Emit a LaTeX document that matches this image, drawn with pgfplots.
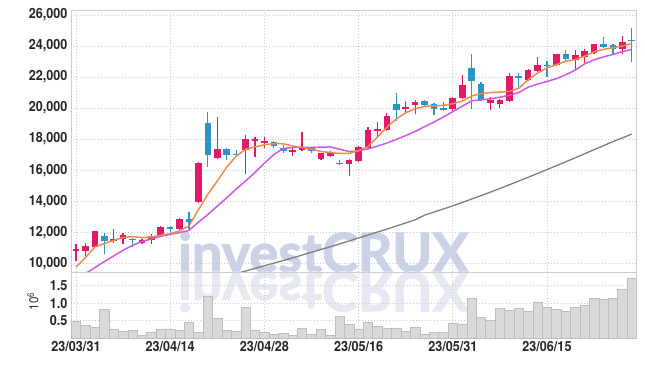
\documentclass[border=0pt]{standalone}
\usepackage{pgfplots}
\pgfplotsset{compat=1.18}
\usepackage{pgfplotstable}
\usepackage{fontspec}
\setmainfont{TeX Gyre Heros}[FakeStretch=0.9]
\newfontfamily\wmfont{Lato}[FakeBold=2]
\definecolor{upc}{HTML}{E2186A}
\definecolor{dnc}{HTML}{2E93C6}
\definecolor{maA}{HTML}{F08A4B}
\definecolor{maB}{HTML}{C95BE8}
\definecolor{maC}{HTML}{7F7F7F}
\definecolor{gridc}{HTML}{C5C9DA}
\definecolor{framec}{HTML}{CCCCD4}
\definecolor{volf}{HTML}{D9D9D9}
\definecolor{vold}{HTML}{BDBDBD}
\definecolor{wm}{HTML}{CBD2E5}
\definecolor{wmr}{HTML}{E6E9F2}

\pgfplotstableread{
i o h l c
0 10800 11226 10150 10900
1 10820 11330 10470 11120
2 11075 12100 11070 12085
4 11420 12190 11330 11590
5 11550 11935 11225 11830
7 11310 11570 11270 11485
8 11525 11870 11225 11785
9 11763 12390 11720 12343
11 12215 12900 12190 12880
13 13980 16500 13950 16470
15 16815 19400 16710 17355
18 17290 18260 15740 18000
19 17850 18110 16820 18000
20 17765 18110 17460 17890
23 17140 17460 16925 17310
24 17290 18430 17245 17420
26 16710 17110 16700 17097
27 16946 17250 16940 17140
29 16430 16700 15635 16645
30 16590 17550 16560 17500
31 17460 18760 17410 18610
32 18545 19087 18065 18675
33 18610 19675 18545 19500
35 19935 20460 19630 20065
36 20196 20500 19630 20370
40 19935 20720 19740 20675
41 20675 22130 20610 21500
44 20350 20740 19880 20520
45 20240 20600 19980 20520
46 20457 22260 20410 22087
48 21783 22520 21780 22478
49 22413 23280 22326 22804
51 22804 23500 22760 23457
53 23130 23717 22480 23390
54 23304 23780 22913 23674
55 23522 24150 23460 24109
58 23783 24650 23500 24283
}\upcandles

\pgfplotstableread{
i o h l c
3 11760 11980 10580 11440
6 11590 11655 11050 11485
10 12340 12390 11980 12240
12 12860 13310 12190 12690
14 19050 19780 16235 17010
16 17355 17420 16645 16970
17 17050 17310 16880 16950
21 17785 17850 17460 17570
22 17460 17635 17100 17205
25 17400 17460 17100 17205
28 16470 16645 16340 16380
34 20240 20980 19150 19850
37 20435 20500 20175 20196
38 20240 20350 19587 19957
39 19990 20390 19890 19900
42 22590 23500 19957 21740
43 21545 21700 20457 20500
47 22060 22260 21390 21960
50 22800 23065 21980 22700
52 23457 23717 23022 23196
56 24150 24587 23940 23956
57 24043 24110 23457 23805
59 24410 25150 22980 24310
}\dncandles

\pgfplotstableread{
i v
0 9750
1 10365
2 11050
3 11270
4 11480
5 11655
6 11720
7 11655
8 11700
9 11806
10 11913
11 12085
12 12408
13 13450
14 14450
15 15300
16 16200
17 16900
18 17350
19 17505
20 17634
21 17720
22 17700
23 17560
24 17462
25 17355
26 17204
27 17140
28 17075
29 17080
30 17250
31 17520
32 18150
33 18760
34 19300
35 19700
36 19957
37 20110
38 20150
39 20175
40 20280
41 20457
42 20780
43 20935
44 21000
45 21030
46 21080
47 21280
48 21826
49 22260
50 22587
51 22804
52 23022
53 23130
54 23348
55 23630
56 23783
57 23890
58 24000
59 24152
}\maFive

\pgfplotstableread{
i v
1 9330
2 9720
3 10107
4 10473
5 10838
6 11161
7 11397
8 11570
9 11741
10 11870
11 11978
12 12120
13 12650
14 13150
15 13680
16 14220
17 14780
18 15300
19 15850
20 16450
21 17000
22 17400
23 17460
24 17470
25 17470
26 17480
27 17500
28 17350
29 17200
30 17250
31 17370
32 17550
33 17750
34 17980
35 18230
36 18490
37 18800
38 19100
39 19430
40 19770
41 20120
42 20470
43 20530
44 20600
45 20700
46 20830
47 21000
48 21350
49 21550
50 21717
51 21900
52 22150
53 22450
54 22850
55 23110
56 23300
57 23457
58 23640
59 23780
}\maTwenty

\pgfplotstableread{
i v
16 9170
17 9330
18 9500
19 9670
20 9840
21 10010
22 10180
23 10350
24 10530
25 10710
26 10890
27 11070
28 11250
29 11440
30 11630
31 11820
32 12010
33 12200
34 12400
35 12600
36 12800
37 13100
38 13300
39 13500
40 13700
41 13920
42 14140
43 14360
44 14590
45 14820
46 15060
47 15300
48 15540
49 15790
50 16040
51 16290
52 16540
53 16800
54 17060
55 17320
56 17580
57 17840
58 18080
59 18330
}\maLong

\pgfplotstableread{
i v
0 0.48
1 0.36
2 0.30
3 0.82
4 0.25
5 0.19
6 0.22
7 0.08
8 0.16
9 0.25
10 0.25
11 0.22
12 0.46
13 0.16
14 1.19
15 0.56
16 0.22
17 0.19
18 0.88
19 0.22
20 0.16
21 0.10
22 0.13
23 0.08
24 0.28
25 0.10
26 0.25
27 0.08
28 0.62
29 0.40
30 0.25
31 0.46
32 0.33
33 0.29
34 0.29
35 0.19
36 0.30
37 0.10
38 0.16
39 0.16
40 0.42
41 0.40
42 1.13
43 0.59
44 0.51
45 0.85
46 0.79
47 0.85
48 0.76
49 1.02
50 0.88
51 0.82
52 0.76
53 0.88
54 0.93
55 1.13
56 1.10
57 1.13
58 1.40
59 1.70
}\vol

\pgfplotsset{
  commonax/.style={
    scale only axis, width=565pt, anchor=south west,
    xmin=-0.53, xmax=59.45,
    xtick={0,10,20,30,40,50},
    grid=major,
    major grid style={gridc, line width=0.8pt, dash pattern=on 1pt off 2pt},
    axis line style={framec, line width=0.8pt},
    major tick length=0pt,
    scaled y ticks=false,
    tick label style={font=\fontsize{14}{16}\selectfont\bfseries, text=black!85},
    /pgf/number format/assume math mode=true,
  },
  candle/.style={draw=none, mark=none, forget plot,
    error bars/y dir=#1, error bars/y explicit, error bars/error mark=none},
}

\begin{document}
\begin{tikzpicture}
\path[use as bounding box] (0,0) rectangle (645pt,367pt);
\node[anchor=base west, inner sep=0pt, font=\wmfont\bfseries\fontsize{54}{54}\selectfont, text=wm] at (178pt,95pt) {investCRUX};
\node[anchor=base west, inner sep=0pt, yscale=-1, font=\wmfont\bfseries\fontsize{54}{54}\selectfont, text=wmr] at (178pt,95pt) {investCRUX};

\begin{axis}[commonax, at={(71pt,95pt)}, height=262pt,
  ymin=9439, ymax=26322,
  ytick={10000,12000,...,26000},
  xticklabels={},
  /pgf/number format/1000 sep={,},
]
\addplot[candle=both, error bars/error bar style={draw=upc, line width=1.2pt}]
  table[x=i, y=o, y error plus expr=\thisrow{h}-\thisrow{o}, y error minus expr=\thisrow{o}-\thisrow{l}] {\upcandles};
\addplot[candle=plus, error bars/error bar style={draw=upc, line width=6.6pt, line cap=butt}]
  table[x=i, y=o, y error plus expr=\thisrow{c}-\thisrow{o}] {\upcandles};
\addplot[candle=both, error bars/error bar style={draw=dnc, line width=1.2pt}]
  table[x=i, y=c, y error plus expr=\thisrow{h}-\thisrow{c}, y error minus expr=\thisrow{c}-\thisrow{l}] {\dncandles};
\addplot[candle=plus, error bars/error bar style={draw=dnc, line width=6.6pt, line cap=butt}]
  table[x=i, y=c, y error plus expr=\thisrow{o}-\thisrow{c}] {\dncandles};
\addplot[maC, line width=1.3pt, no marks] table[x=i, y=v] {\maLong};
\addplot[maB, line width=1.5pt, no marks] table[x=i, y=v] {\maTwenty};
\addplot[maA, line width=1.5pt, no marks] table[x=i, y=v] {\maFive};
\end{axis}

\begin{axis}[commonax, at={(71pt,29pt)}, height=66pt,
  ymin=0, ymax=1.886,
  ytick={0.5,1,1.5},
  yticklabel style={/pgf/number format/fixed, /pgf/number format/fixed zerofill, /pgf/number format/precision=1},
  xticklabels={23/03/31,23/04/14,23/04/28,23/05/16,23/05/31,23/06/15},
]
\addplot[ybar, bar width=1, bar shift=0pt, fill=volf, draw=vold, line width=0.6pt] table[x=i, y=v] {\vol};
\end{axis}

\node[rotate=90, font=\fontsize{13}{15}\selectfont, text=black!80] at (33pt,66pt) {10\textsuperscript{6}};
\end{tikzpicture}
\end{document}
